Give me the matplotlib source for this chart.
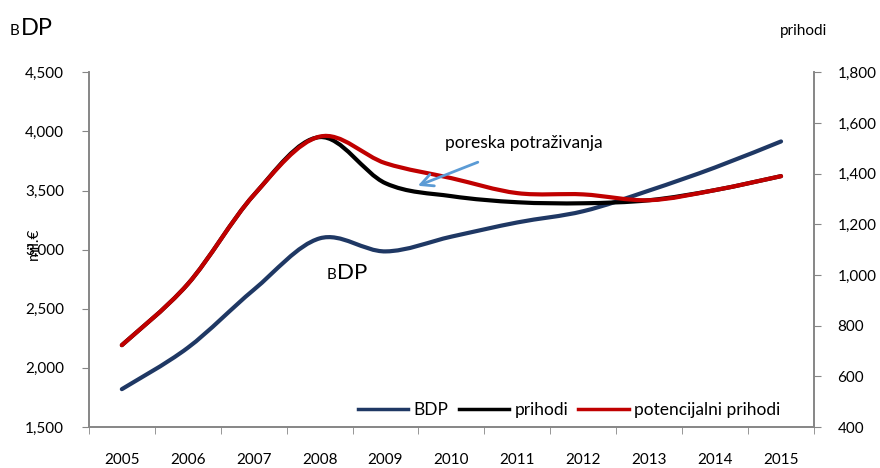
import numpy as np
import matplotlib
matplotlib.use("Agg")
import matplotlib.pyplot as plt
from matplotlib.path import Path
from matplotlib.patches import PathPatch
from matplotlib.lines import Line2D

plt.rcParams['font.family'] = ['Lato', 'DejaVu Sans']

# podaci
godine = ['2005', '2006', '2007', '2008', '2009', '2010', '2011', '2012', '2013', '2014', '2015']
bdp = [1820, 2170, 2660, 3095, 2985, 3110, 3230, 3325, 3500, 3695, 3915]
prihodi = [723, 964, 1315, 1544, 1362, 1311, 1287, 1283, 1295, 1335, 1390]
potencijalni = [723, 964, 1315, 1546, 1441, 1382, 1323, 1318, 1295, 1335, 1390]


def smooth_path(xs, ys):
    # Catmull-Rom -> Bezier (kao "smoothed line" u Excelu)
    pts = np.column_stack([xs, ys]).astype(float)
    verts = [pts[0]]
    codes = [Path.MOVETO]
    n = len(pts)
    for i in range(n - 1):
        p0 = pts[i - 1] if i > 0 else pts[i]
        p1 = pts[i]
        p2 = pts[i + 1]
        p3 = pts[i + 2] if i + 2 < n else pts[i + 1]
        c1 = p1 + (p2 - p0) / 6.0
        c2 = p2 - (p3 - p1) / 6.0
        verts += [c1, c2, p2]
        codes += [Path.CURVE4] * 3
    return Path(verts, codes)


fig = plt.figure(figsize=(8.8, 4.68), dpi=100)
ax = fig.add_axes([0.101, 0.0876, 0.824, 0.758])
ax2 = ax.twinx()

x = np.arange(len(godine))
ax.add_patch(PathPatch(smooth_path(x, bdp), fill=False, edgecolor='#1F3864', lw=3, capstyle='round'))
ax2.add_patch(PathPatch(smooth_path(x, prihodi), fill=False, edgecolor='black', lw=3, capstyle='round'))
ax2.add_patch(PathPatch(smooth_path(x, potencijalni), fill=False, edgecolor='#C00000', lw=3, capstyle='round'))

ax.set_xlim(-0.5, len(godine) - 0.5)
ax.set_ylim(1500, 4500)
ax2.set_ylim(400, 1800)
ax.set_yticks(np.arange(1500, 4501, 500))
ax2.set_yticks(np.arange(400, 1801, 200))
ax.yaxis.set_major_formatter(matplotlib.ticker.StrMethodFormatter('{x:,.0f}'))
ax2.yaxis.set_major_formatter(matplotlib.ticker.StrMethodFormatter('{x:,.0f}'))

ax.set_xticks(x)
ax.set_xticklabels(godine)
ax.set_xticks(np.arange(-0.5, len(godine)), minor=True)
ax.tick_params(axis='x', which='major', length=0, labelsize=11, pad=19)
ax.tick_params(axis='x', which='minor', length=5, color='#868686')
ax.tick_params(axis='y', length=5, color='#868686', labelsize=11, pad=13)
ax2.tick_params(axis='y', length=5, color='#868686', labelsize=11, pad=12)

for a in (ax, ax2):
    a.spines['top'].set_visible(False)
    for s in ('left', 'right', 'bottom'):
        a.spines[s].set_color('#868686')
        a.spines[s].set_linewidth(1.2)

ax.set_ylabel('mil.€', fontsize=11)
ax.yaxis.set_label_coords(-0.066, 0.515)

# naslovi osa
fig.text(0.011, 0.925, 'B', fontsize=11, va='baseline')
fig.text(0.0235, 0.925, 'DP', fontsize=17, va='baseline')
fig.text(0.886, 0.925, 'prihodi', fontsize=11, va='baseline')

# oznaka BDP na liniji
ax.text(3.10, 2751, 'B', fontsize=11, va='baseline')
ax.text(3.26, 2751, 'DP', fontsize=16, va='baseline')

# strelica
ax2.annotate('', xy=(4.49, 1352), xytext=(5.40, 1445),
             arrowprops=dict(arrowstyle='->', color='#5B9BD5', lw=2, mutation_scale=22,
                             shrinkA=0, shrinkB=0))
ax2.text(4.90, 1500, 'poreska potraživanja', fontsize=12.5, va='baseline')

handles = [Line2D([], [], color='#1F3864', lw=2.5),
           Line2D([], [], color='black', lw=2.5),
           Line2D([], [], color='#C00000', lw=2.5)]
ax.legend(handles, ['BDP', 'prihodi', 'potencijalni prihodi'], loc='lower right',
          ncol=3, frameon=False, fontsize=12.5, handlelength=2.9, handletextpad=0.3,
          columnspacing=0.6, bbox_to_anchor=(0.975, -0.02))

fig.savefig('out.png', dpi=100)
